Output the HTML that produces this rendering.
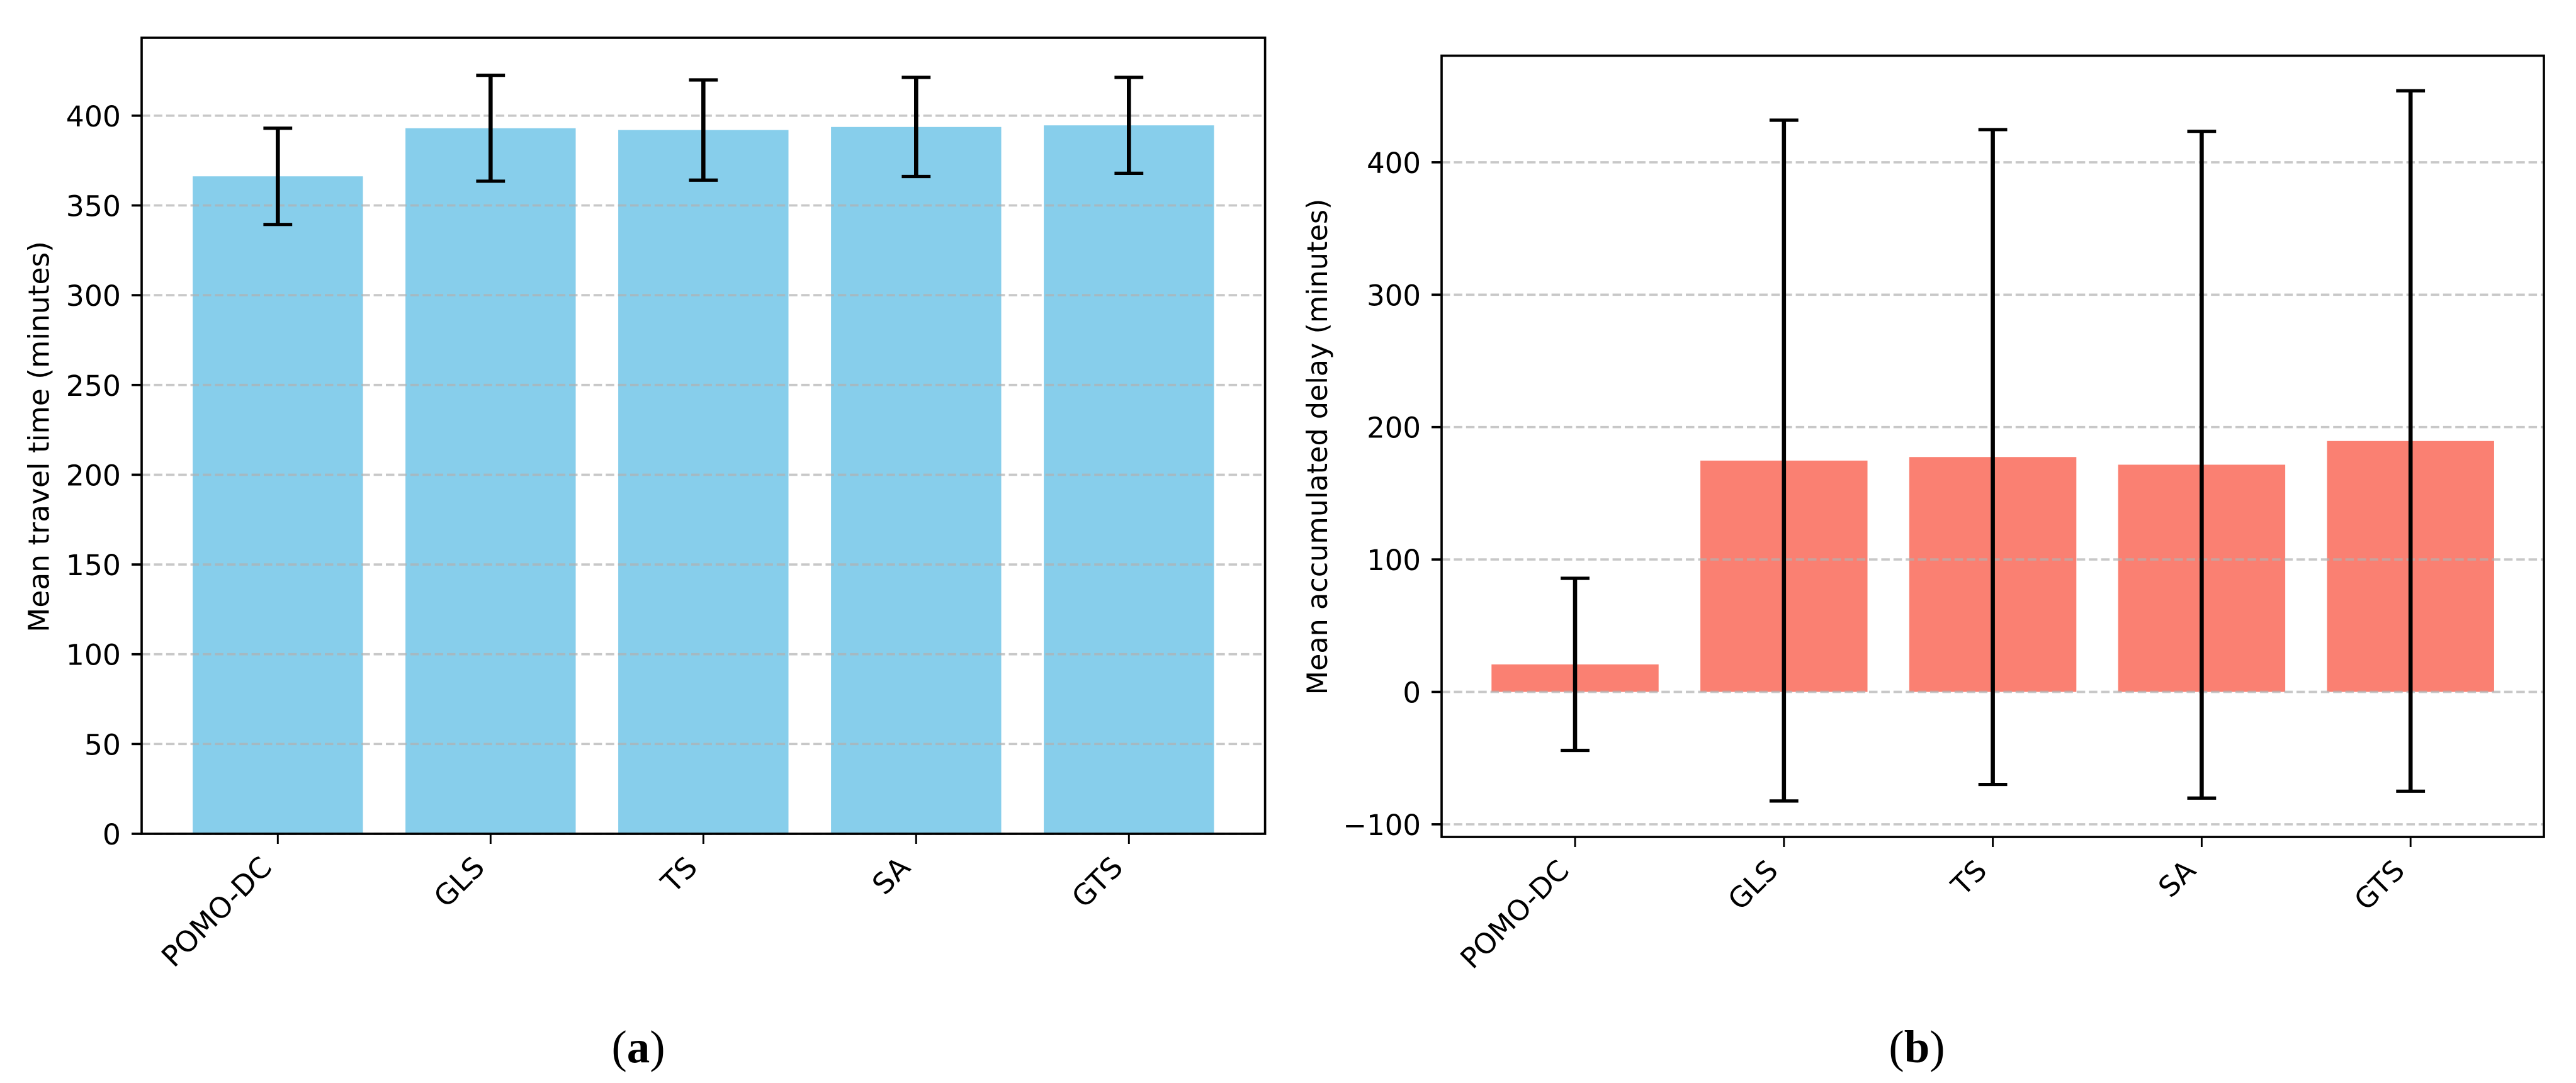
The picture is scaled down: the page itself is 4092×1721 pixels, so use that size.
<!DOCTYPE html>
<html lang="en">
<head>
<meta charset="utf-8">
<title>Mean travel time and accumulated delay</title>
<style>
  html, body { margin: 0; padding: 0; background: #fff; }
  #figure { display: block; width: 4092px; height: 1721px; }
  text { font-family: "DejaVu Sans", "Liberation Sans", sans-serif; fill: #000; }
  .caption { font-family: "Liberation Serif", serif; font-size: 73px; }
  .caption tspan { font-weight: bold; }
</style>
</head>
<body>
<svg id="figure" xmlns="http://www.w3.org/2000/svg" width="4092" height="1721" viewBox="0 0 4092 1721">
  <rect x="0" y="0" width="4092" height="1721" fill="#ffffff"/>
  <g id="panel-a"></g>
  <g id="panel-b"></g>
  <text class="caption" x="1014" y="1688" text-anchor="middle">(<tspan>a</tspan>)</text>
  <text class="caption" x="3045" y="1688" text-anchor="middle">(<tspan>b</tspan>)</text>
</svg>
<script>
const categories = ["POMO-DC", "GLS", "TS", "SA", "GTS"];

const travelMeans = [366.2, 393, 392, 393.7, 394.6];
const travelErrors = [26.8, 29.5, 27.9, 27.6, 26.7];
const travelTicks = [0, 50, 100, 150, 200, 250, 300, 350, 400];

const delayMeans = [20.8, 174.7, 177.4, 171.6, 189.5];
const delayErrors = [65, 257.1, 247.3, 251.8, 264.5];
const delayTicks = [-100, 0, 100, 200, 300, 400];

const SVG_NS = "http://www.w3.org/2000/svg";

function shape(parent, tag, attrs) {
  const el = document.createElementNS(SVG_NS, tag);
  for (const key in attrs) el.setAttribute(key, attrs[key]);
  parent.appendChild(el);
  return el;
}

function drawPanel(root, cfg) {
  // axis functions
  const xScale = (i) => cfg.x0 + cfg.xStep * i;
  const yScale = (v) => cfg.yZero - cfg.yUnit * v;
  const barWidth = cfg.xStep * 0.8;
  const LW = 3.66;

  // bars
  cfg.means.forEach((m, i) => {
    const top = yScale(Math.max(m, 0));
    const bottom = yScale(Math.min(m, 0));
    const bar = shape(root, "rect", {
      x: xScale(i) - barWidth / 2, y: top, width: barWidth, height: bottom - top, fill: cfg.color
    });
    
    
  });

  // grid lines, drawn over the bars
  cfg.ticks.forEach((t) => {
    const grid = shape(root, "line", {
      x1: cfg.left, x2: cfg.right, y1: yScale(t), y2: yScale(t),
      stroke: "#b0b0b0", "stroke-opacity": 0.7, "stroke-width": LW, "stroke-dasharray": "13.5 5.9"
    });
    
    
  });

  // error bars
  cfg.means.forEach((m, i) => {
    const cx = xScale(i);
    const hi = yScale(m + cfg.errors[i]);
    const lo = yScale(m - cfg.errors[i]);
    const stem = shape(root, "line", { x1: cx, x2: cx, y1: hi, y2: lo, stroke: "#000", "stroke-width": 6.6 });
    
    
    [hi, lo].forEach((y) => {
      const cap = shape(root, "line", { x1: cx - 22.9, x2: cx + 22.9, y1: y, y2: y, stroke: "#000", "stroke-width": 5.2 });
      
      
    });
  });

  // y ticks and labels
  cfg.ticks.forEach((t) => {
    const tick = shape(root, "line", {
      x1: cfg.left - 16, x2: cfg.left, y1: yScale(t), y2: yScale(t), stroke: "#000", "stroke-width": LW
    });
    
    
    const label = shape(root, "text", {
      x: cfg.left - 33, y: yScale(t) + 17, "text-anchor": "end", "font-size": cfg.tickFont
    });
    label.textContent = String(t).replace("-", "\u2212");
    
    
  });

  // x ticks and rotated labels
  cfg.categories.forEach((c, i) => {
    const cx = xScale(i);
    const tick = shape(root, "line", {
      x1: cx, x2: cx, y1: cfg.bottom, y2: cfg.bottom + 16, stroke: "#000", "stroke-width": LW * 0.8
    });
    
    
    const lx = cx - 7;
    const ly = cfg.bottom + 56;
    const label = shape(root, "text", {
      x: lx, y: ly, "text-anchor": "end", "font-size": cfg.tickFont, transform: "rotate(-45 " + lx + " " + ly + ")"
    });
    label.textContent = c;
    
    
  });

  // axes frame
  const frame = shape(root, "rect", {
    x: cfg.left, y: cfg.top, width: cfg.right - cfg.left, height: cfg.bottom - cfg.top,
    fill: "none", stroke: "#000", "stroke-width": LW
  });
  
  

  // y-axis title
  const cy = cfg.titleY;
  const title = shape(root, "text", {
    x: cfg.titleX, y: cy, "text-anchor": "middle", "font-size": cfg.titleFont,
    transform: "rotate(-90 " + cfg.titleX + " " + cy + ")"
  });
  title.textContent = cfg.title;
  
  
}

drawPanel(document.getElementById("panel-a"), {
  categories: categories, means: travelMeans, errors: travelErrors, ticks: travelTicks,
  color: "#87ceeb", title: "Mean travel time (minutes)",
  left: 225, right: 2009.6, top: 60, bottom: 1325,
  x0: 441.3, xStep: 338, yZero: 1325, yUnit: 2.853,
  titleX: 77.5, titleY: 694, tickFont: 45.7, titleFont: 45.5
});

drawPanel(document.getElementById("panel-b"), {
  categories: categories, means: delayMeans, errors: delayErrors, ticks: delayTicks,
  color: "#fa8072", title: "Mean accumulated delay (minutes)",
  left: 2290, right: 4041, top: 88.5, bottom: 1330,
  x0: 2502, xStep: 331.8, yZero: 1099.5, yUnit: 2.104,
  titleX: 2108, titleY: 710, tickFont: 45, titleFont: 44.5
});
</script>
</body>
</html>
